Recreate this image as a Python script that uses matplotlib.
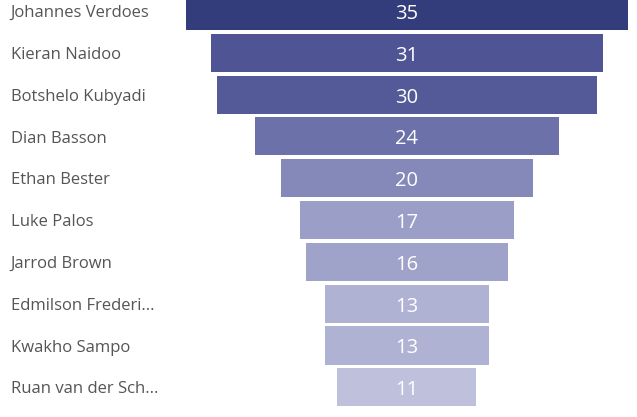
import matplotlib.pyplot as plt

players = ["Johannes Verdoes", "Kieran Naidoo", "Botshelo Kubyadi", "Dian Basson",
           "Ethan Bester", "Luke Palos", "Jarrod Brown", "Edmilson Frederi...",
           "Kwakho Sampo", "Ruan van der Sch..."]
goals = [35, 31, 30, 24, 20, 17, 16, 13, 13, 11]
colours = ["#343d7c", "#4f5594", "#545a97", "#6c71a9", "#8589b9",
           "#9b9ec6", "#a0a3c9", "#afb2d3", "#afb2d3", "#bec0dc"]

plt.rcParams['font.family'] = ['Open Sans', 'DejaVu Sans']

fig = plt.figure(figsize=(6.37, 4.17), dpi=100)
ax = fig.add_axes([0, 0, 1, 1])

# funnel: bars centred on zero, width = value
lefts = [-g / 2 for g in goals]
ax.barh(range(len(goals)), goals, left=lefts, height=0.91, color=colours)

for i, (name, g) in enumerate(zip(players, goals)):
    ax.text(0, i + 0.07, str(g), ha='center', va='center', color='white', fontsize=14.5)
    ax.text(0.017, i + 0.05, name, transform=ax.get_yaxis_transform(),
            ha='left', va='center', color='#555555', fontsize=12)

ax.set_xlim(-32.2, 18.2)
ax.set_ylim(9.71, -0.263)
ax.axis('off')

fig.savefig('out.png', dpi=100)
